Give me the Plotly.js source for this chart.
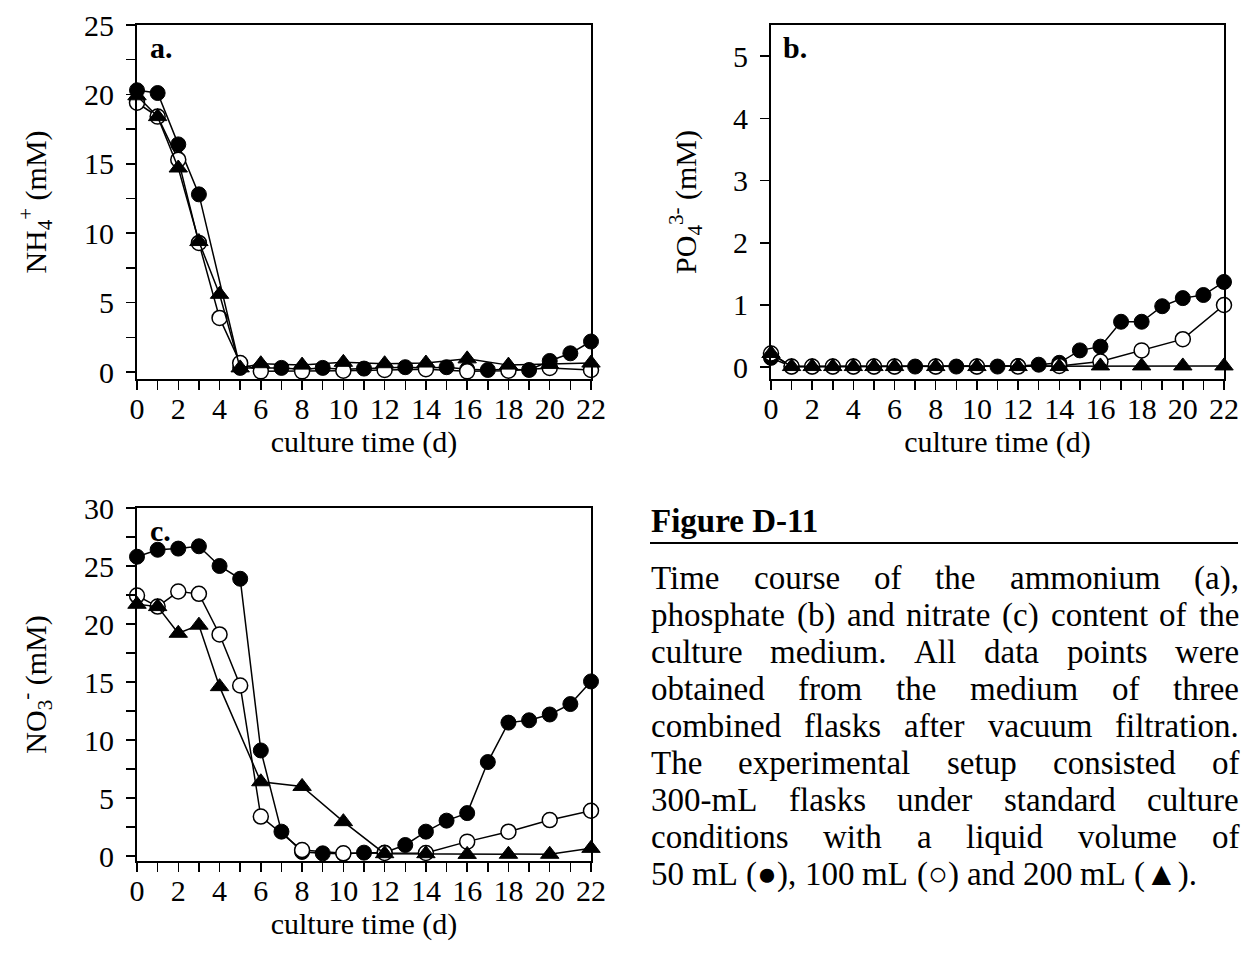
<!DOCTYPE html>
<html>
<head>
<meta charset="utf-8">
<script src="https://cdn.plot.ly/plotly-3.0.1.min.js"></script>
<style>
  html, body { margin: 0; padding: 0; background: #ffffff; }
  #chart { width: 1242px; height: 958px; }
</style>
</head>
<body>
<div id="chart"></div>
<script>
// ---------------- data ----------------
const daysAll  = [0,1,2,3,4,5,6,7,8,9,10,11,12,13,14,15,16,17,18,19,20,21,22];
const daysA50  = [0,1,2,3,5,6,7,8,9,10,11,12,13,14,15,16,17,18,19,20,21,22];
const daysAB   = [0,1,2,3,4,5,6,8,10,12,14,16,18,20,22];
const daysC200 = [0,1,2,3,4,6,8,10,12,14,16,18,20,22];

// (a) NH4+ (mM)
const nh4_50  = [20.3,20.1,16.4,12.8,0.3,0.3,0.3,0.2,0.3,0.2,0.25,0.3,0.35,0.3,0.35,0.2,0.15,0.2,0.15,0.8,1.35,2.2];
const nh4_100 = [19.4,18.4,15.3,9.3,3.9,0.65,0.05,0.05,0.1,0.15,0.2,0.05,0.1,0.3,0.15];
const nh4_200 = [19.9,18.4,14.7,9.4,5.6,0.3,0.6,0.5,0.7,0.6,0.65,0.95,0.5,0.55,0.65];

// (b) PO4 3- (mM)
const po4_50  = [0.15,0.01,0.01,0.01,0.01,0.01,0.01,0.01,0.01,0.01,0.01,0.01,0.02,0.04,0.07,0.27,0.33,0.73,0.73,0.98,1.11,1.16,1.37];
const po4_100 = [0.22,0.01,0.01,0.01,0.01,0.01,0.01,0.01,0.01,0.01,0.02,0.09,0.27,0.45,1.0];
const po4_200 = [0.22,0.01,0.01,0.01,0.01,0.01,0.01,0.01,0.01,0.01,0.01,0.02,0.02,0.02,0.02];

// (c) NO3- (mM)
const no3_50  = [25.8,26.4,26.5,26.7,25.0,23.9,9.1,2.1,0.35,0.23,0.2,0.29,0.3,0.95,2.1,3.05,3.7,8.1,11.5,11.7,12.2,13.1,15.05];
const no3_100 = [22.45,21.5,22.8,22.6,19.1,14.7,3.4,0.52,0.23,0.26,0.26,1.24,2.1,3.1,3.9];
const no3_200 = [21.7,21.5,19.2,19.9,14.6,6.4,6.0,2.96,0.2,0.2,0.14,0.15,0.15,0.66];

// text
const xTitle = 'culture time (d)';
const yTitleA = 'NH<sub>4</sub><sup>+</sup> (mM)';
const yTitleB = 'PO<sub>4</sub><sup>3-</sup> (mM)';
const yTitleC = 'NO<sub>3</sub><sup>-</sup> (mM)';
const panelLabels = ['a.', 'b.', 'c.'];
const captionTitle = 'Figure D-11';
const captionLines = [
  'Time course of the ammonium (a),',
  'phosphate (b) and nitrate (c) content of the',
  'culture medium. All data points were',
  'obtained from the medium of three',
  'combined flasks after vacuum filtration.',
  'The experimental setup consisted of',
  '300-mL flasks under standard culture',
  'conditions with a liquid volume of',
  '50 mL (\u25CF), 100 mL (\u25CB) and 200 mL (\u25B2).'
];

// ---------------- layout helpers ----------------
const W = 1242, H = 958;
const FONT = 'Liberation Serif, Times New Roman, serif';
const px = v => v / W;
const py = v => 1 - v / H;

function series(x, y, kind, xa, ya) {
  const base = { x: x, y: y, xaxis: xa, yaxis: ya, type: 'scatter', mode: 'lines+markers',
    line: { color: '#000', width: 1.5 }, cliponaxis: false, hoverinfo: 'x+y' };
  if (kind === 'filled') base.marker = { symbol: 'circle', size: 15, color: '#000', line: { color: '#000', width: 1 } };
  if (kind === 'open') base.marker = { symbol: 'circle', size: 15, color: '#fff', line: { color: '#000', width: 1.5 } };
  if (kind === 'tri') base.marker = { symbol: 'triangle-up', size: 16, color: '#000', line: { color: '#000', width: 1 } };
  return base;
}

const data = [
  series(daysA50, nh4_50, 'filled', 'x', 'y'),
  series(daysAB, nh4_100, 'open', 'x', 'y'),
  series(daysAB, nh4_200, 'tri', 'x', 'y'),
  series(daysAll, po4_50, 'filled', 'x2', 'y2'),
  series(daysAB, po4_100, 'open', 'x2', 'y2'),
  series(daysAB, po4_200, 'tri', 'x2', 'y2'),
  series(daysAll, no3_50, 'filled', 'x3', 'y3'),
  series(daysAB, no3_100, 'open', 'x3', 'y3'),
  series(daysC200, no3_200, 'tri', 'x3', 'y3')
];

const tickFont = { family: FONT, size: 30, color: '#000' };
const titleFont = { family: FONT, size: 30, color: '#000' };

function xAxis(d0, d1, anchor) {
  return {
    domain: [px(d0), px(d1)], anchor: anchor, range: [0, 22],
    tick0: 0, dtick: 2, ticks: 'outside', ticklen: 9, tickwidth: 1.5, tickcolor: '#000',
    minor: { dtick: 1, ticks: 'outside', ticklen: 9, tickwidth: 1.5, tickcolor: '#000', showgrid: false },
    showline: true, linewidth: 2, linecolor: '#000', mirror: true,
    showgrid: false, zeroline: false, tickfont: tickFont, ticklabelstandoff: -7,
    title: { text: xTitle, font: titleFont, standoff: 2 }
  };
}
function yAxis(top, bottom, anchor, range, dtick, minorDtick, title, standoff) {
  const ax = {
    domain: [py(bottom), py(top)], anchor: anchor, range: range,
    tick0: 0, dtick: dtick, ticks: 'outside', ticklen: 9, tickwidth: 1.5, tickcolor: '#000',
    showline: true, linewidth: 2, linecolor: '#000', mirror: true,
    showgrid: false, zeroline: false, tickfont: tickFont, ticklabelstandoff: 6,
    title: { text: title, font: titleFont, standoff: standoff }
  };
  if (minorDtick) ax.minor = { dtick: minorDtick, ticks: 'outside', ticklen: 9, tickwidth: 1.5, tickcolor: '#000', showgrid: false };
  return ax;
}

const annotations = [];
// panel labels
[[149, 47], [782, 47], [149, 530]].forEach((p, i) => {
  annotations.push({ xref: 'paper', yref: 'paper', x: px(p[0]), y: py(p[1]), xanchor: 'left', yanchor: 'middle',
    text: '<b>' + panelLabels[i] + '</b>', showarrow: false, borderpad: 0,
    font: { family: FONT, size: 30, color: '#000' } });
});

// caption title
const CAP_L = 650, CAP_R = 1238, CAP_SIZE = 33, CAP_Y0 = 578, CAP_DY = 37;
annotations.push({ xref: 'paper', yref: 'paper', x: px(CAP_L), y: py(521), xanchor: 'left', yanchor: 'middle',
  text: '<b>' + captionTitle + '</b>', showarrow: false, borderpad: 0,
  font: { family: FONT, size: CAP_SIZE, color: '#000' } });

// justified caption text, placed word by word
const ctx = document.createElement('canvas').getContext('2d');
ctx.font = CAP_SIZE + 'px "Liberation Serif"';
captionLines.forEach((line, li) => {
  const yy = CAP_Y0 + li * CAP_DY;
  const words = line.split(' ');
  const widths = words.map(w => ctx.measureText(w).width);
  const total = widths.reduce((a, b) => a + b, 0);
  const last = li === captionLines.length - 1;
  const gap = last ? ctx.measureText(' ').width : (CAP_R - CAP_L - total) / (words.length - 1);
  let xx = CAP_L;
  words.forEach((w, wi) => {
    annotations.push({ xref: 'paper', yref: 'paper', x: px(xx), y: py(yy), xanchor: 'left', yanchor: 'middle',
      text: w, showarrow: false, borderpad: 0,
      font: { family: FONT, size: CAP_SIZE, color: '#000' } });
    xx += widths[wi] + gap;
  });
});

const layout = {
  width: W, height: H,
  margin: { l: 0, r: 0, t: 0, b: 0, pad: 0 },
  paper_bgcolor: '#fff', plot_bgcolor: 'rgba(0,0,0,0)',
  showlegend: false,
  font: { family: FONT, color: '#000' },
  xaxis: xAxis(137, 591, 'y'),
  yaxis: yAxis(25, 379, 'x', [-0.5, 25], 5, 2.5, yTitleA, 29),
  xaxis2: xAxis(771, 1224, 'y2'),
  yaxis2: yAxis(25, 379, 'x2', [-0.19, 5.5], 1, null, yTitleB, 28),
  xaxis3: xAxis(137, 591, 'y3'),
  yaxis3: yAxis(508, 861, 'x3', [-0.43, 30], 5, 2.5, yTitleC, 29),
  shapes: [
    { type: 'line', xref: 'paper', yref: 'paper', x0: px(CAP_L), x1: px(CAP_R), y0: py(543), y1: py(543),
      line: { color: '#000', width: 2 } }
  ],
  annotations: annotations
};

Plotly.newPlot('chart', data, layout, { displayModeBar: false, staticPlot: true });
</script>
</body>
</html>
